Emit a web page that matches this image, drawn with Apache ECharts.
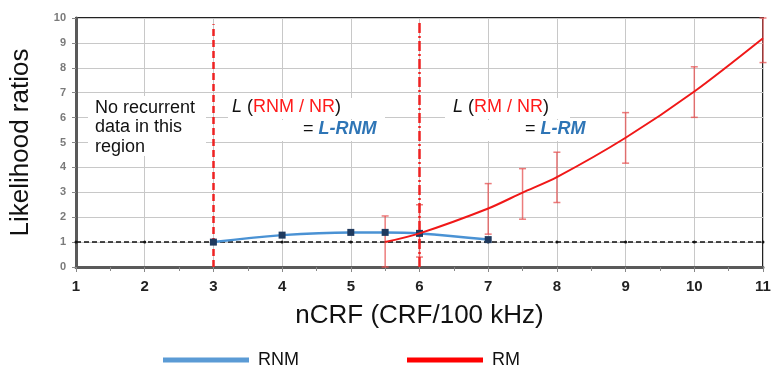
<!DOCTYPE html>
<html lang="en">
<head>
    <meta charset="UTF-8">
    <title>Likelihood ratios vs nCRF</title>
    <script src="https://cdn.jsdelivr.net/npm/echarts@6/dist/echarts.min.js"></script>
</head>
<body style="margin: 0">
<div id="chart" style="width: 783px;height: 373px"></div>
</body>

<script>
    // RNM curve (blue)
    let rnmX = [3, 4, 5, 5.5, 6, 7];
    let rnmY = [1.0, 1.28, 1.39, 1.39, 1.35, 1.1];
    // RM curve (red) with error bars
    let rmX = [5.5, 6, 7, 7.5, 8, 9, 10, 11];
    let rmY = [1.0, 1.35, 2.35, 2.99, 3.61, 5.19, 7.05, 9.19];
    let rmLow = [0.0, 0.4, 1.32, 1.92, 2.59, 4.17, 6.01, 8.21];
    let rmHigh = [2.05, 2.5, 3.35, 3.95, 4.61, 6.2, 8.04, 10];
    // NR reference line
    let nrX = [1, 2, 3, 4, 5, 6, 7, 8, 9, 10, 11];
    let nrY = [1, 1, 1, 1, 1, 1, 1, 1, 1, 1, 1];

    let chart = echarts.init(document.getElementById('chart'));
    let font = 'Liberation Sans, Arial, sans-serif';

    let zip = (xs, ys) => xs.map((x, i) => [x, ys[i]]);
    let errData = rmX.map((x, i) => [x, rmLow[i], rmHigh[i]]);

    let option = {
        animation: false,
        textStyle: { fontFamily: font },
        grid: {
            left: 76, right: 20, top: 18, bottom: 106,
            show: true, borderColor: '#222', borderWidth: 2
        },
        legend: [
            {
                left: 158, top: 346, itemWidth: 86, itemHeight: 5, selectedMode: false,
                textStyle: { fontSize: 18, color: '#111', padding: [0, 0, 0, 4] },
                data: [{ name: 'RNM', icon: 'rect', itemStyle: { color: '#5b9bd5', borderWidth: 0 } }]
            },
            {
                left: 402, top: 346, itemWidth: 76, itemHeight: 5, selectedMode: false,
                textStyle: { fontSize: 18, color: '#111', padding: [0, 0, 0, 4] },
                data: [{ name: 'RM', icon: 'rect', itemStyle: { color: '#ff0000', borderWidth: 0 } }]
            }
        ],
        xAxis: {
            type: 'value', min: 1, max: 11, interval: 1,
            name: 'nCRF (CRF/100 kHz)', nameLocation: 'middle', nameGap: 36,
            nameTextStyle: { fontSize: 26, color: '#111' },
            axisLine: { lineStyle: { color: '#5a5a5a', width: 3 } },
            axisTick: { length: 5, lineStyle: { color: '#888' } },
            minorTick: { show: true, splitNumber: 2, length: 4, lineStyle: { color: '#888' } },
            axisLabel: { fontSize: 15, fontWeight: 'bold', color: '#222', margin: 12 },
            splitLine: { lineStyle: { color: '#c8c8c8' } }
        },
        yAxis: {
            type: 'value', min: 0, max: 10, interval: 1,
            name: 'Likelihood ratios', nameLocation: 'middle', nameGap: 42,
            nameTextStyle: { fontSize: 26, color: '#111' },
            axisLine: { show: true, lineStyle: { color: '#5a5a5a', width: 3 } },
            axisTick: { show: true, length: 4, lineStyle: { color: '#888' } },
            axisLabel: { fontSize: 11, fontWeight: 'bold', color: '#7a7a7a', margin: 10 },
            splitLine: { lineStyle: { color: '#c8c8c8' } }
        },
        series: [
            {
                name: 'NR',
                type: 'line',
                data: zip(nrX, nrY),
                symbol: 'circle', symbolSize: 3,
                itemStyle: { color: '#111' },
                lineStyle: { color: '#111', width: 1.5, type: [5, 3] },
                z: 3
            },
            {
                name: 'RM-err',
                type: 'custom',
                data: errData,
                renderItem: function (params, api) {
                    let x = api.value(0);
                    let lo = api.coord([x, api.value(1)]);
                    let hi = api.coord([x, api.value(2)]);
                    let cap = 3.5;
                    let st = { stroke: 'rgba(230,80,80,0.75)', lineWidth: 1.5 };
                    return {
                        type: 'group',
                        children: [
                            { type: 'line', shape: { x1: lo[0], y1: lo[1], x2: hi[0], y2: hi[1] }, style: st },
                            { type: 'line', shape: { x1: lo[0] - cap, y1: lo[1], x2: lo[0] + cap, y2: lo[1] }, style: st },
                            { type: 'line', shape: { x1: hi[0] - cap, y1: hi[1], x2: hi[0] + cap, y2: hi[1] }, style: st }
                        ]
                    };
                },
                z: 4
            },
            {
                name: 'RNM',
                type: 'line',
                data: zip(rnmX, rnmY),
                smooth: 0.4,
                symbol: 'rect', symbolSize: 7,
                itemStyle: { color: '#1f3a5f' },
                lineStyle: { color: '#4a92d4', width: 2.5 },
                z: 5,
                markLine: {
                    silent: true, symbol: 'none', label: { show: false },
                    data: [
                        [{ coord: [3, 0], lineStyle: { color: '#ee2222', width: 2.5, type: [7, 4] } }, { coord: [3, 9.75] }],
                        [{ coord: [6, 0], lineStyle: { color: '#ee2222', width: 2.5, type: [10, 3, 2, 3] } }, { coord: [6, 9.9] }]
                    ]
                }
            },
            {
                name: 'RM',
                type: 'line',
                data: zip(rmX, rmY),
                smooth: 0.3,
                showSymbol: false,
                itemStyle: { color: '#ff0000' },
                lineStyle: { color: '#f01818', width: 2 },
                z: 6
            }
        ],
        graphic: [
            { type: 'rect', shape: { x: 88, y: 96, width: 118, height: 60 }, style: { fill: '#fff' }, z: 1 },
            { type: 'rect', shape: { x: 228, y: 98, width: 157, height: 21 }, style: { fill: '#fff' }, z: 1 },
            { type: 'rect', shape: { x: 255, y: 120, width: 130, height: 21 }, style: { fill: '#fff' }, z: 1 },
            { type: 'rect', shape: { x: 445, y: 98, width: 125, height: 21 }, style: { fill: '#fff' }, z: 1 },
            { type: 'rect', shape: { x: 478, y: 120, width: 112, height: 21 }, style: { fill: '#fff' }, z: 1 },
            {
                type: 'text', left: 95, top: 98, z: 10,
                style: {
                    text: 'No recurrent\ndata in this\nregion', font: '18px ' + font,
                    fill: '#111', lineHeight: 19.5
                }
            },
            {
                type: 'text', left: 232, top: 98, z: 10,
                style: {
                    text: '{i|L} ({r|RNM / NR})', font: '18px ' + font, fill: '#111',
                    rich: { i: { fontStyle: 'italic', fontSize: 18, fill: '#111' }, r: { fill: '#ff1a1a', fontSize: 18 } }
                }
            },
            {
                type: 'text', left: 303, top: 120, z: 10,
                style: {
                    text: '= {b|L-RNM}', font: '18px ' + font, fill: '#111',
                    rich: { b: { fontStyle: 'italic', fontWeight: 'bold', fontSize: 18, fill: '#2e75b6' } }
                }
            },
            {
                type: 'text', left: 453, top: 98, z: 10,
                style: {
                    text: '{i|L} ({r|RM / NR})', font: '18px ' + font, fill: '#111',
                    rich: { i: { fontStyle: 'italic', fontSize: 18, fill: '#111' }, r: { fill: '#ff1a1a', fontSize: 18 } }
                }
            },
            {
                type: 'text', left: 525, top: 120, z: 10,
                style: {
                    text: '= {b|L-RM}', font: '18px ' + font, fill: '#111',
                    rich: { b: { fontStyle: 'italic', fontWeight: 'bold', fontSize: 18, fill: '#2e75b6' } }
                }
            }
        ]
    };

    chart.setOption(option);
</script>

</html>
